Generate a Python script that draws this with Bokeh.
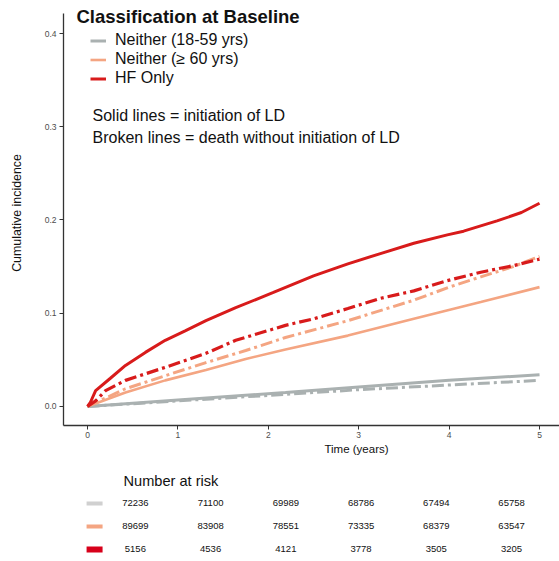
from bokeh.plotting import figure
from bokeh.layouts import column
from bokeh.models import (Range1d, FixedTicker, PrintfTickFormatter, Label, Legend, LegendItem)
from bokeh.embed import file_html
from bokeh.resources import INLINE

FONT = "Liberation Sans"

# ---- data ----
groups = ["Neither (18-59 yrs)", "Neither (\u2265 60 yrs)", "HF Only"]
colors = ["#aab1b1", "#f4a582", "#d81b1b"]
swatch_colors = ["#d0d0d0", "#f4a582", "#d7001a"]

# initiation of LD (solid)
young_ld_t = [0, 1, 2.19, 3, 4, 5]
young_ld_y = [0, 0.007, 0.015, 0.021, 0.028, 0.034]
old_ld_t = [0, 0.42, 0.86, 1.31, 1.75, 2.19, 2.88, 3.61, 4.35, 5]
old_ld_y = [0, 0.015, 0.028, 0.039, 0.051, 0.061, 0.076, 0.094, 0.112, 0.128]
hf_ld_t = [0, 0.03, 0.09, 0.25, 0.42, 0.64, 0.86, 1.08, 1.31, 1.64, 2.05, 2.5, 2.88,
           3.24, 3.61, 3.98, 4.16, 4.53, 4.8, 5]
hf_ld_y = [0, 0.004, 0.017, 0.030, 0.044, 0.058, 0.071, 0.081, 0.092, 0.106, 0.122, 0.140,
           0.153, 0.164, 0.175, 0.184, 0.188, 0.199, 0.208, 0.218]

# death without initiation of LD (broken)
young_d_t = [0, 1, 2.19, 3, 4, 5]
young_d_y = [0, 0.006, 0.013, 0.018, 0.023, 0.028]
old_d_t = [0, 0.42, 0.86, 1.31, 1.75, 2.19, 2.88, 3.61, 4.0, 4.35, 4.71, 5]
old_d_y = [0, 0.019, 0.033, 0.047, 0.060, 0.074, 0.092, 0.114, 0.128, 0.139, 0.150, 0.161]
hf_d_t = [0, 0.09, 0.2, 0.42, 0.86, 1.31, 1.64, 2.19, 2.5, 2.88, 3.24, 3.61, 3.98, 4.35, 4.71, 5]
hf_d_y = [0, 0.006, 0.017, 0.028, 0.042, 0.057, 0.071, 0.087, 0.094, 0.105, 0.116, 0.124,
          0.135, 0.144, 0.151, 0.158]

x_ticks = [0, 1, 2, 3, 4, 5]
y_ticks = [0.0, 0.1, 0.2, 0.3, 0.4]

risk_times = [0, 1, 2, 3, 4, 5]
risk_young = [72236, 71100, 69989, 68786, 67494, 65758]
risk_old = [89699, 83908, 78551, 73335, 68379, 63547]
risk_hf = [5156, 4536, 4121, 3778, 3505, 3205]

# ---- main plot ----
p = figure(width=559, height=442, output_backend="svg", toolbar_location=None,
           x_range=Range1d(-0.2655, 5.221), y_range=Range1d(-0.0204, 0.4354),
           min_border_left=63, min_border_right=0, min_border_top=0, min_border_bottom=17)
p.outline_line_color = None
p.xgrid.grid_line_color = None
p.ygrid.grid_line_color = None
p.background_fill_color = "white"

for ax in (p.xaxis[0], p.yaxis[0]):
    ax.axis_line_color = "#333333"
    ax.axis_line_width = 1.3
    ax.major_tick_line_color = "#333333"
    ax.major_tick_in = 0
    ax.major_tick_out = 4
    ax.minor_tick_line_color = None
    ax.major_label_text_font = FONT
    ax.major_label_text_color = "#4d4d4d"
    ax.major_label_text_font_size = "8.5px"

p.xaxis.ticker = FixedTicker(ticks=x_ticks)
p.xaxis.major_label_standoff = 2
p.yaxis.ticker = FixedTicker(ticks=y_ticks)
p.yaxis.bounds = (-0.0204, 0.4214)
p.yaxis.formatter = PrintfTickFormatter(format="%.1f")
p.yaxis.major_label_standoff = 3
p.yaxis.axis_label = "Cumulative incidence"
p.yaxis.axis_label_text_font = FONT
p.yaxis.axis_label_text_font_style = "normal"
p.yaxis.axis_label_text_font_size = "12.4px"
p.yaxis.axis_label_text_color = "#111111"
p.yaxis.axis_label_standoff = 18

dash = "12 4 3 4"
series = [
    (young_d_t, young_d_y, 0, dash, 3),
    (old_d_t, old_d_y, 1, dash, 3),
    (young_ld_t, young_ld_y, 0, "solid", 3),
    (old_ld_t, old_ld_y, 1, "solid", 2.6),
    (hf_d_t, hf_d_y, 2, dash, 3.2),
    (hf_ld_t, hf_ld_y, 2, "solid", 3),
]
legend_renderers = {}
for t, y, gi, ld, lw in series:
    r = p.line(t, y, line_color=colors[gi], line_width=lw, line_dash=ld)
    if ld == "solid":
        legend_renderers[gi] = r

legend = Legend(items=[LegendItem(label=groups[i], renderers=[legend_renderers[i]]) for i in range(3)],
                location=(27, 337.5), padding=0, margin=0, spacing=0,
                glyph_width=16, glyph_height=19, label_height=19, label_standoff=9,
                label_text_font=FONT, label_text_font_size="16px", label_text_color="#111111",
                background_fill_alpha=0, border_line_color=None)
p.add_layout(legend, "center")

p.add_layout(Label(x=13, y=409, x_units="screen", y_units="screen",
                   text="Classification at Baseline", text_font=FONT, text_font_size="18.5px",
                   text_font_style="bold", text_color="#111111", text_baseline="middle"))
p.add_layout(Label(x=29, y=310, x_units="screen", y_units="screen",
                   text="Solid lines = initiation of LD", text_font=FONT, text_font_size="16px",
                   text_color="#111111", text_baseline="middle"))
p.add_layout(Label(x=29, y=288, x_units="screen", y_units="screen",
                   text="Broken lines = death without initiation of LD", text_font=FONT,
                   text_font_size="16px", text_color="#111111", text_baseline="middle"))

# ---- risk table (and the x-axis title) ----
q = figure(width=559, height=119, output_backend="svg", toolbar_location=None,
           x_range=Range1d(-0.955, 5.637), y_range=Range1d(2.522, -2.652),
           min_border_left=0, min_border_right=0, min_border_top=0, min_border_bottom=0)
q.outline_line_color = None
q.xaxis.visible = False
q.yaxis.visible = False
q.xgrid.grid_line_color = None
q.ygrid.grid_line_color = None

rows = [risk_young, risk_old, risk_hf]
for i, vals in enumerate(rows):
    q.text(x=risk_times, y=[i] * len(risk_times), text=[str(v) for v in vals],
           text_font_size="9.5px", text_align="center", text_baseline="middle",
           text_color="#111111", text_font={"value": FONT})

SWATCH_X = -0.542
swatch_h = [4, 4, 6]
q.rect(x=[SWATCH_X] * 3, y=[0, 1, 2], width=16, height=swatch_h,
       width_units="screen", height_units="screen",
       fill_color=swatch_colors, line_color=None)

q.add_layout(Label(x=293, y=113, x_units="screen", y_units="screen",
                   text="Time (years)", text_font=FONT, text_font_size="11.5px",
                   text_color="#111111", text_align="center", text_baseline="middle"))
q.add_layout(Label(x=60, y=81, x_units="screen", y_units="screen",
                   text="Number at risk", text_font=FONT, text_font_size="14.6px",
                   text_color="#111111", text_baseline="middle"))

layout = column(p, q, spacing=0)
open("out.html", "w").write(file_html(layout, INLINE))
